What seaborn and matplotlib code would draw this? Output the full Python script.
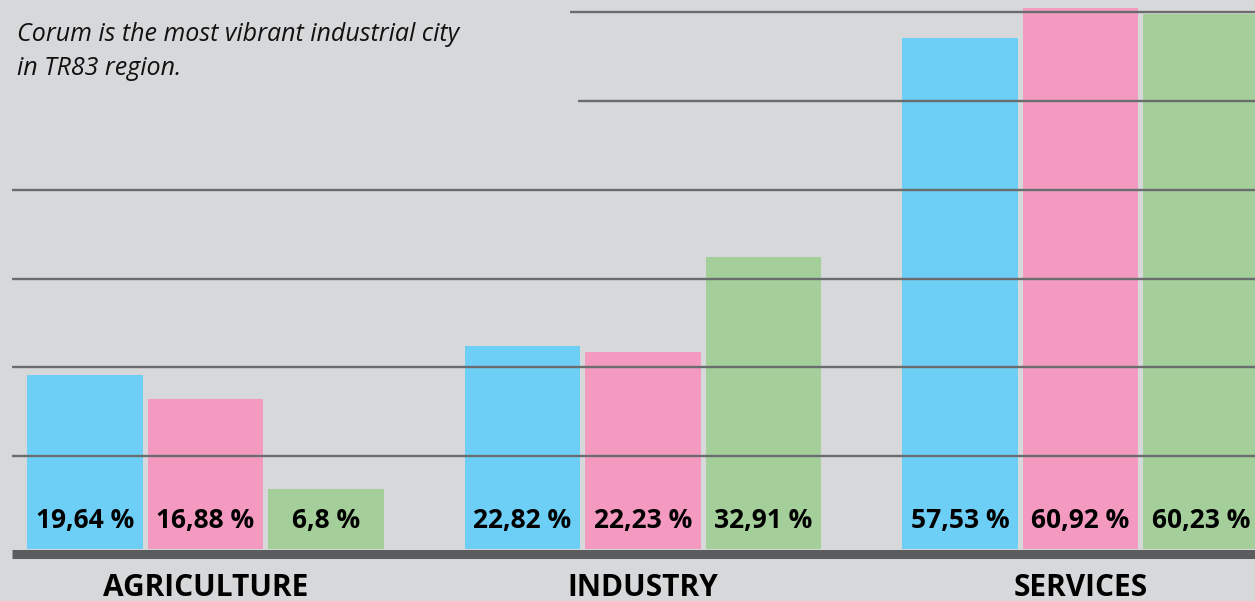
import matplotlib
matplotlib.use("Agg")
import matplotlib.pyplot as plt
import seaborn as sns
import pandas as pd

# ---- data ----
sectors = ["AGRICULTURE", "INDUSTRY", "SERVICES"]
regions = ["Turkey", "TR83", "Corum"]
turkey = [19.64, 22.82, 57.53]
tr83 = [16.88, 22.23, 60.92]
corum = [6.8, 32.91, 60.23]
grid_vals = [10, 20, 30, 40, 50, 60]

note = "Corum is the most vibrant industrial city\nin TR83 region."

colors = ["#6dcff6", "#f49ac1", "#a4cf9a"]
bg = "#d7d8da"

df = pd.DataFrame({
    "sector": sectors * 3,
    "region": [r for r in regions for _ in sectors],
    "share": turkey + tr83 + corum,
})

sns.set_style("white")
plt.rcParams["font.family"] = ["Open Sans", "DejaVu Sans"]

W, H = 1255, 601
fig = plt.figure(figsize=(W / 100, H / 100), dpi=100, facecolor=bg)
base_px = 549          # pixel row of the bar bottoms
px_per_unit = 8.88     # pixels per percent
ax = fig.add_axes([0, (H - base_px) / H, 1, base_px / H])
ax.set_facecolor(bg)

sns.barplot(data=df, x="sector", y="share", hue="region", palette=colors,
            width=0.826, gap=0.044, saturation=1, legend=False,
            linewidth=0, ax=ax, zorder=2)

# x scale: one category = 437.5 px, first category centred at 205.5 px
cat_px = 437.5
x0 = -205.5 / cat_px
x1 = x0 + W / cat_px
ax.set_xlim(x0, x1)
ax.set_ylim(0, base_px / px_per_unit)

# grid lines (drawn above bars), top two partly hidden by the note
grid_shift = 0.45
starts = [x0 + 12 / cat_px] * 4 + [x0 + 578 / cat_px, x0 + 570 / cat_px]
ax.hlines([g + grid_shift for g in grid_vals], starts, x1,
          color="#6b6c6e", linewidth=1.7, zorder=3)

# value labels inside the bars
for cont, vals in zip(ax.containers, [turkey, tr83, corum]):
    for bar, v in zip(cont, vals):
        ax.text(bar.get_x() + bar.get_width() / 2, 21 / px_per_unit,
                str(v).replace(".", ",") + " %", ha="center", va="baseline",
                fontsize=19, fontweight="bold", color="black", zorder=4)

# thick baseline
for s in ["top", "left", "right"]:
    ax.spines[s].set_visible(False)
sp = ax.spines["bottom"]
sp.set_color("#5b5c5e")
sp.set_linewidth(6.5)
sp.set_capstyle("butt")
sp.set_position(("outward", 3.24))
sp.set_bounds(x0 + 12 / cat_px, x1)

ax.set_yticks([])
ax.set_xlabel("")
ax.set_ylabel("")
ax.tick_params(axis="x", length=0, pad=14)
for lab in ax.get_xticklabels():
    lab.set_fontsize(21.5)
    lab.set_fontweight("bold")
    lab.set_color("black")

# note: baseline of its last line sits at 75 px from the top
fig.text(17 / W, 1 - 75 / H, note, ha="left", va="baseline",
         fontsize=18, fontstyle="italic", color="#111111", linespacing=1.48)

fig.savefig("out.png", dpi=100, facecolor=bg)
